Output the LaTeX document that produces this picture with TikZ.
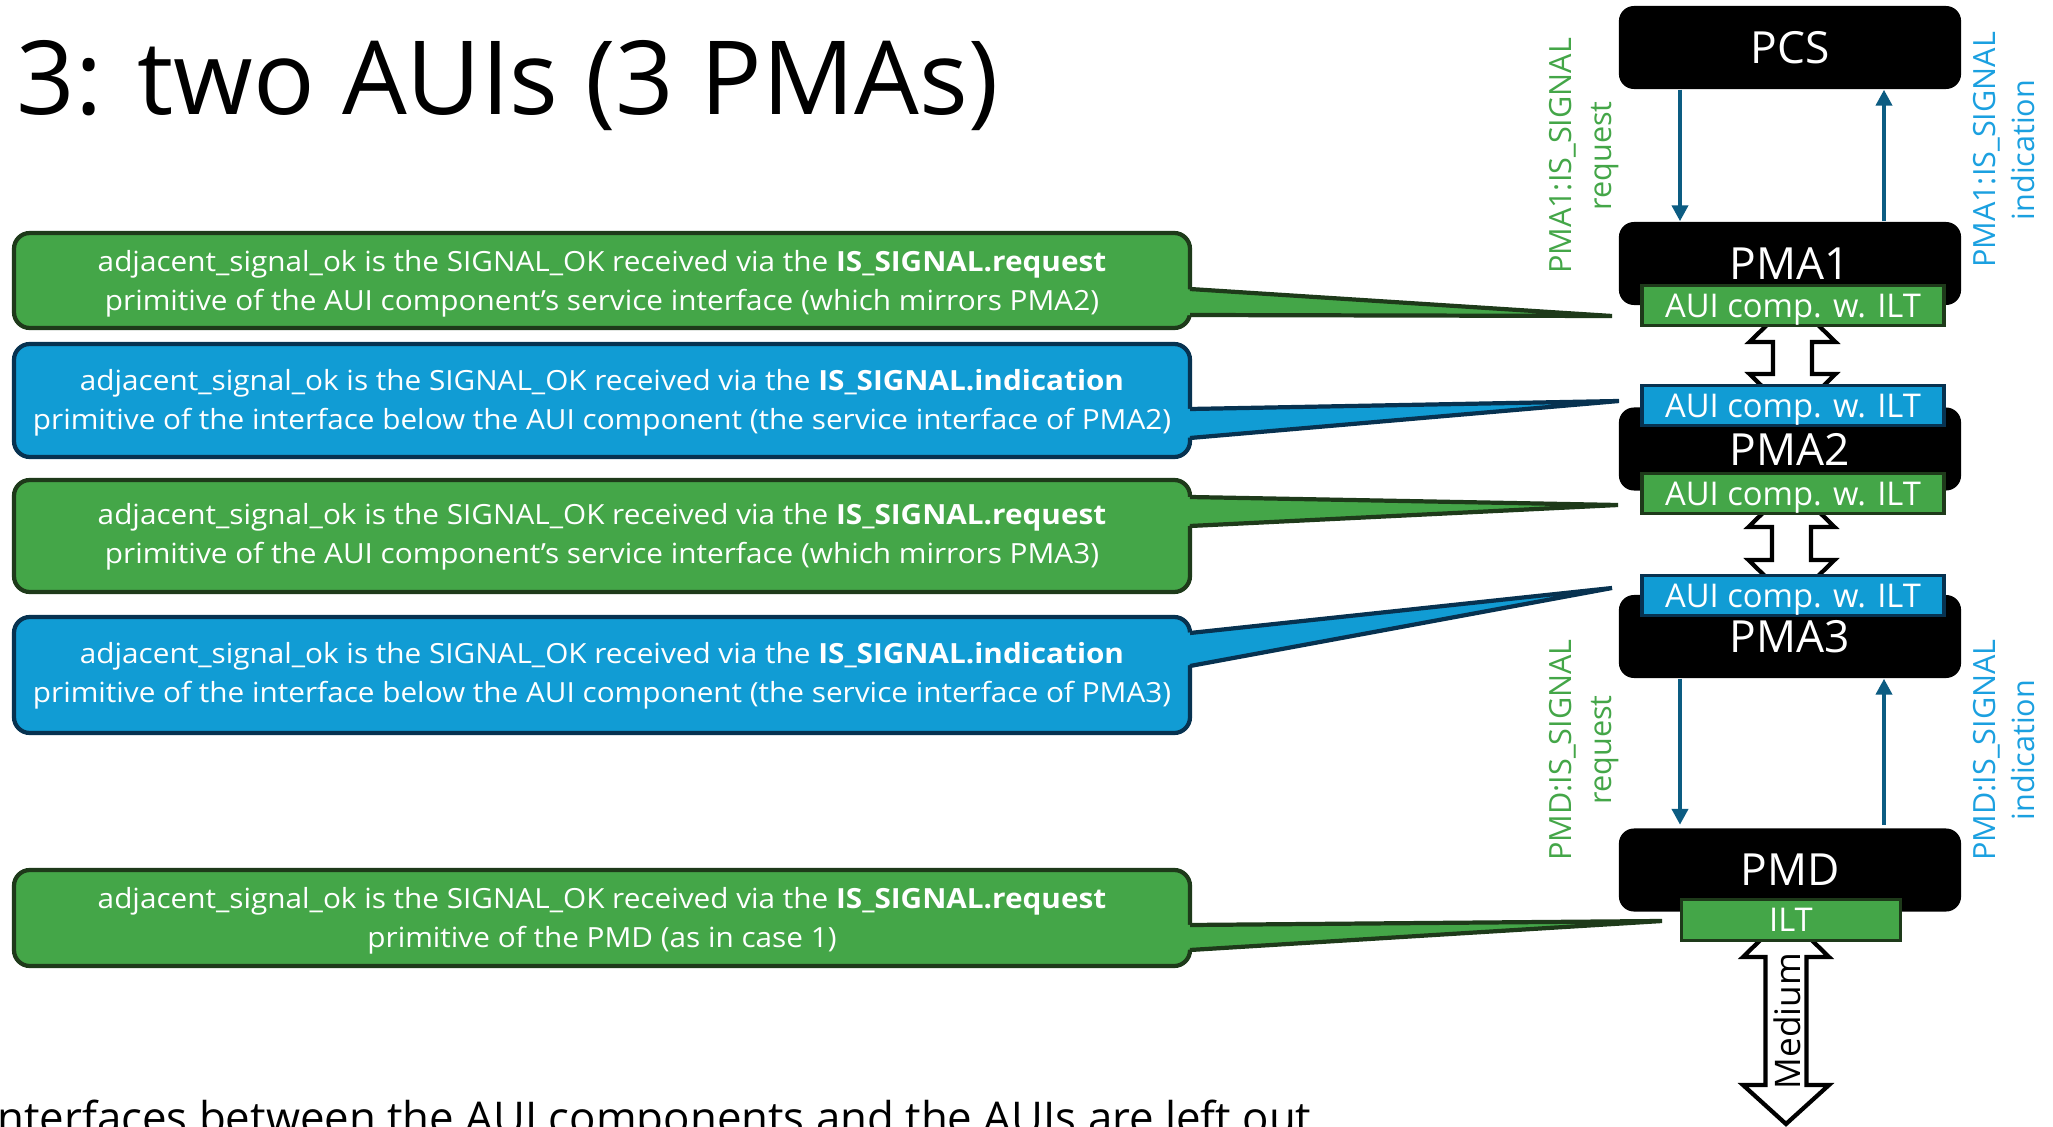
\documentclass[tikz,border=0pt]{standalone}
\usepackage{fontspec}
\setmainfont{Open Sans}
\newfontfamily\calloutfont[FakeStretch=1.07]{Open Sans}
\usetikzlibrary{arrows.meta}
\definecolor{cgreen}{RGB}{68,166,72}
\definecolor{cgreenD}{RGB}{30,58,26}
\definecolor{cblue}{RGB}{17,156,212}
\definecolor{cblueD}{RGB}{7,50,80}
\definecolor{lgreen}{RGB}{68,166,72}
\definecolor{lblue}{RGB}{27,160,224}
\definecolor{arr}{RGB}{12,92,130}
\newcommand\mycallout[7]{%
  \draw[draw=#2, fill=#1, line width=1.2pt, rounded corners=4.5pt] (14,#3) rectangle (1190,#4);
  \fill[#1] (1184,#5) -- (#7) -- (1184,#6) -- cycle;
  \draw[#2, line width=1.2pt] (1190,#5) -- (#7) -- (1190,#6);
}
\newcommand\blockarrow[6]{% cx, top tip, top base, bottom base, bottom tip, shaft half
  \draw[draw=black, fill=white, line width=1.2pt]
    (#1,#2) -- ({#1+43},#3) -- ({#1+#6},#3) -- ({#1+#6},#4) -- ({#1+43},#4)
    -- (#1,#5) -- ({#1-43},#4) -- ({#1-#6},#4) -- ({#1-#6},#3) -- ({#1-43},#3) -- cycle;
}
\begin{document}
\begin{tikzpicture}[x=0.01cm,y=-0.01cm,
  blk/.style={fill=black, rounded corners=4.3pt, minimum width=3.42cm, minimum height=0.83cm,
    text=white, inner sep=0pt, text depth=0pt, font=\fontsize{12.6}{14}\selectfont},
  auig/.style={fill=cgreen, draw=cgreenD, line width=1pt, minimum width=3.015cm, minimum height=0.395cm,
    text=white, inner sep=0pt, text depth=0pt, font=\fontsize{9.3}{10}\selectfont},
  auib/.style={auig, fill=cblue, draw=cblueD},
  ctext/.style={text=white, align=center, inner sep=0pt, font=\calloutfont\fontsize{7.9}{11.1}\selectfont},
  lab/.style={rotate=90, align=center, inner sep=0pt, font=\fontsize{8.7}{11.2}\selectfont},
  sig/.style={draw=arr, line width=1.4pt, -{Triangle[width=4.5pt,length=4.5pt]}},
]
\useasboundingbox (0,0) rectangle (2053,1127);
\fill[white] (0,0) rectangle (2053,1127);

% title
\node[anchor=base west, inner sep=0pt, font=\fontsize{29.1}{33}\selectfont] (title) at (16,114) {3: two AUIs (3 PMAs)};

% callout tips
\coordinate (t1) at (1612,316);
\coordinate (t2) at (1619,401);
\coordinate (t3) at (1618,505);
\coordinate (t4) at (1612,588);
\coordinate (t5) at (1662,921);

\mycallout{cgreen}{cgreenD}{233}{328}{289}{315}{t1}
\mycallout{cblue}{cblueD}{344}{457}{409}{438}{t2}
\mycallout{cgreen}{cgreenD}{480}{592}{497}{526}{t3}
\mycallout{cblue}{cblueD}{617}{733}{633}{666}{t4}
\mycallout{cgreen}{cgreenD}{870}{966}{925}{950}{t5}

\node[ctext] (c1) at (602,283.5) {adjacent\_signal\_ok is the SIGNAL\_OK received via the \textbf{IS\_SIGNAL.request}\\primitive of the AUI component’s service interface (which mirrors PMA2)};
\node[ctext] (c2) at (602,402.5) {adjacent\_signal\_ok is the SIGNAL\_OK received via the \textbf{IS\_SIGNAL.indication}\\primitive of the interface below the AUI component (the service interface of PMA2)};
\node[ctext] (c3) at (602,537) {adjacent\_signal\_ok is the SIGNAL\_OK received via the \textbf{IS\_SIGNAL.request}\\primitive of the AUI component’s service interface (which mirrors PMA3)};
\node[ctext] (c4) at (602,676) {adjacent\_signal\_ok is the SIGNAL\_OK received via the \textbf{IS\_SIGNAL.indication}\\primitive of the interface below the AUI component (the service interface of PMA3)};
\node[ctext] (c5) at (602,921) {adjacent\_signal\_ok is the SIGNAL\_OK received via the \textbf{IS\_SIGNAL.request}\\primitive of the PMD (as in case 1)};

% block arrows (behind boxes)
\blockarrow{1792.5}{300}{342}{374}{416}{19.5}
\blockarrow{1791.5}{485}{527}{560}{602}{19.5}
\blockarrow{1786}{915}{957}{1085}{1124}{20.4}
\node[rotate=90, inner sep=0pt, text depth=0pt, font=\fontsize{10}{12}\selectfont] (medium) at (1787,1021) {Medium};

% black layer boxes
\node[blk] (pcs) at (1790,47.5) {PCS};
\node[blk] (pma1) at (1790,263.5) {PMA1};
\node[blk] (pma2) at (1790,449) {PMA2};
\node[blk] (pma3) at (1790,636.5) {PMA3};
\node[blk] (pmd) at (1790,870) {PMD};

% AUI components
\node[auig] (a1) at (1793,305.5) {AUI comp. w. ILT};
\node[auib] (a2) at (1793,405.5) {AUI comp. w. ILT};
\node[auig] (a3) at (1793,493.5) {AUI comp. w. ILT};
\node[auib] (a4) at (1793,595.5) {AUI comp. w. ILT};
\node[auig, minimum width=2.19cm, minimum height=0.41cm] (ilt) at (1791,920) {ILT};

% service primitive arrows
\coordinate (xl) at (1680,0);
\coordinate (xr) at (1884,0);
\draw[sig] (pcs.south -| xl) -- (pma1.north -| xl);
\draw[sig] (pma1.north -| xr) -- (pcs.south -| xr);
\draw[sig] (pma3.south -| xl) -- ([yshift=0.03cm]pmd.north -| xl);
\draw[sig] ([yshift=0.03cm]pmd.north -| xr) -- (pma3.south -| xr);

% labels
\node[lab, text=lgreen] (l1) at (1584,156) {PMA1:IS\_SIGNAL\\request};
\node[lab, text=lblue] (l2) at (2004,150) {PMA1:IS\_SIGNAL\\indication};
\node[lab, text=lgreen] (l3) at (1584,750) {PMD:IS\_SIGNAL\\request};
\node[lab, text=lblue] (l4) at (2004,750) {PMD:IS\_SIGNAL\\indication};

% bottom note (cut by the page edge, as in the reference)
\node[anchor=base east, inner sep=0pt, font=\fontsize{12.45}{14}\selectfont] (note) at (1312,1133) {Interfaces between the AUI components and the AUIs are left out};
\end{tikzpicture}
\end{document}
